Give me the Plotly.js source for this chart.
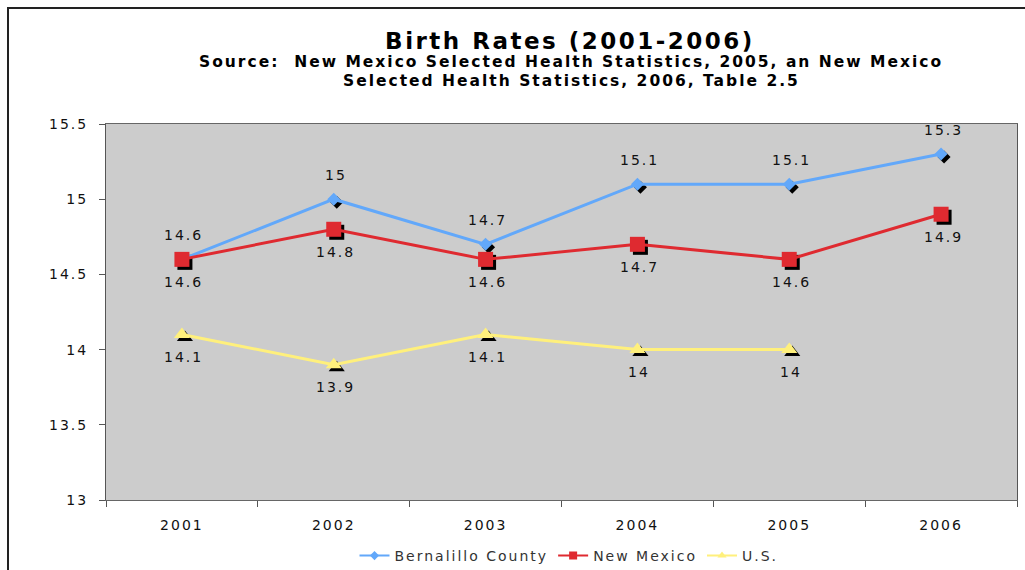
<!DOCTYPE html>
<html>
<head>
<meta charset="utf-8">
<script src="https://cdn.plot.ly/plotly-3.0.1.min.js"></script>
<style>
  html, body { margin: 0; padding: 0; background: #ffffff; }
  #wrap { position: relative; width: 1025px; height: 570px; overflow: hidden; }
  #frame { position: absolute; left: 7px; top: 7px; width: 1040px; height: 600px;
           border-left: 2px solid #222; border-top: 2px solid #222; pointer-events: none; }
  #chart { position: absolute; left: 0; top: 0; width: 1025px; height: 570px; }
  /* wide tracking for all chart lettering */
  .x2tick text, .y2tick text, .annotation-text, .legendtext { letter-spacing: 2px; }
  .gtitle { letter-spacing: 2.5px; }
  .subtitle-line { letter-spacing: 2px; }
</style>
</head>
<body>
<div id="wrap">
  <div id="chart"></div>
  <div id="frame"></div>
</div>
<script>
// Birth rates per 1,000 population, 2001-2006
const years = ['2001', '2002', '2003', '2004', '2005', '2006'];
const bernalillo = [14.6, 15, 14.7, 15.1, 15.1, 15.3];
const newMexico = [14.6, 14.8, 14.6, 14.7, 14.6, 14.9];
const unitedStates = [14.1, 13.9, 14.1, 14, 14, null];

const seriesNames = ['Bernalillo County', 'New Mexico', 'U.S.'];
const seriesColors = ['#62a8fa', '#df2a30', '#fff07c'];
const yTicks = [13, 13.5, 14, 14.5, 15, 15.5];
const subtitleLines = [
  'Source:  New Mexico Selected Health Statistics, 2005, an New Mexico',
  'Selected Health Statistics, 2006, Table 2.5'
];

// plot-area geometry (pixels)
const W = 1025, H = 570;
const M = { l: 106, r: 8, t: 124, b: 70 };
const plotW = W - M.l - M.r;
const plotH = H - M.t - M.b;
const yMin = 13, yMax = 15.5;
const xLo = -0.5, xHi = years.length - 0.5;

// drop shadows: shift the hidden axes so marks land a few pixels right/down
const shadowDx = 3, shadowDy = 3;
const dxu = shadowDx * (xHi - xLo) / plotW;
const dyu = shadowDy * (yMax - yMin) / plotH;

const font = 'DejaVu Sans, Verdana, sans-serif';

const series = [bernalillo, newMexico, unitedStates];
const symbols = ['diamond', 'square', 'triangle-up'];
const sizes = [10, 15, 14];
const legendSizes = [7, 8, 8];

const traces = [];
// shadows first (underneath)
series.forEach((vals, i) => {
  traces.push({
    x: years, y: vals, xaxis: 'x', yaxis: 'y',
    type: 'scatter', mode: 'markers', showlegend: false, hoverinfo: 'skip',
    marker: { symbol: symbols[i], size: sizes[i], color: '#000000' }
  });
});
series.forEach((vals, i) => {
  traces.push({
    x: years, y: vals, xaxis: 'x2', yaxis: 'y2',
    type: 'scatter', mode: 'lines+markers', name: seriesNames[i], showlegend: false,
    connectgaps: false,
    line: { color: seriesColors[i], width: 3 },
    marker: { symbol: symbols[i], size: sizes[i], color: seriesColors[i] }
  });
});
// legend keys with smaller symbols
seriesNames.forEach((name, i) => {
  traces.push({
    x: [null], y: [null], xaxis: 'x2', yaxis: 'y2',
    type: 'scatter', mode: 'lines+markers', name: name, showlegend: true,
    line: { color: seriesColors[i], width: 2 },
    marker: { symbol: symbols[i], size: legendSizes[i], color: seriesColors[i] }
  });
});

// value labels: county above, state and U.S. below
const labelShift = [24, -23, -22];
const annotations = [];
series.forEach((vals, i) => {
  vals.forEach((v, j) => {
    if (v === null) return;
    annotations.push({
      x: j, y: v, xref: 'x2', yref: 'y2',
      text: String(v), showarrow: false, yshift: labelShift[i], xshift: 2,
      font: { family: font, size: 14, color: '#111' }
    });
  });
});

// subtitle lines
const subtitleY = [62, 81];
subtitleLines.forEach((line, k) => {
  annotations.push({
    xref: 'paper', yref: 'paper', x: (571 - M.l) / plotW, y: 1 + (M.t - subtitleY[k]) / plotH,
    xanchor: 'center', yanchor: 'middle', showarrow: false,
    text: '<b>' + line + '</b>',
    font: { family: font, size: 15.5, color: '#000' },
    name: 'subtitle'
  });
});

const layout = {
  width: W, height: H,
  margin: M,
  paper_bgcolor: '#ffffff',
  plot_bgcolor: '#cccccc',
  font: { family: font, color: '#111' },
  title: {
    text: '<b>Birth Rates (2001-2006)</b>',
    font: { family: font, size: 23, color: '#000' },
    x: 570 / W, xanchor: 'center', xref: 'container',
    y: 1 - 41 / H, yanchor: 'middle', yref: 'container'
  },
  xaxis: {
    type: 'category', range: [xLo - dxu, xHi - dxu], visible: false, fixedrange: true
  },
  yaxis: {
    range: [yMin + dyu, yMax + dyu], visible: false, fixedrange: true
  },
  xaxis2: {
    type: 'category', overlaying: 'x', range: [xLo, xHi],
    tickmode: 'array', tickvals: years, ticktext: years,
    tickson: 'boundaries', ticks: 'outside', ticklen: 6, tickcolor: '#555',
    showline: true, linecolor: '#666', linewidth: 1, mirror: true,
    showgrid: false, zeroline: false, ticklabelstandoff: 12,
    tickfont: { family: font, size: 14, color: '#111' }
  },
  yaxis2: {
    overlaying: 'y', range: [yMin, yMax],
    tickmode: 'array', tickvals: yTicks, ticktext: yTicks.map(String),
    ticks: 'outside', ticklen: 6, tickcolor: '#555',
    showline: true, linecolor: '#555', linewidth: 1, mirror: true,
    showgrid: false, zeroline: false, ticklabelstandoff: 8,
    tickfont: { family: font, size: 14, color: '#111' }
  },
  legend: {
    orientation: 'h', xref: 'container', yref: 'container',
    x: 569 / W, xanchor: 'center',
    y: 1 - 556 / H, yanchor: 'middle',
    font: { family: font, size: 14, color: '#333' },
    bgcolor: 'rgba(0,0,0,0)', tracegroupgap: 0
  },
  annotations: annotations,
  showlegend: true
};

Plotly.newPlot('chart', traces, layout, { displayModeBar: false, staticPlot: true }).then(gd => {
  // tag the two subtitle annotations so their tracking can differ from the value labels
  gd.querySelectorAll('.annotation').forEach(g => {
    if (g.getAttribute('data-index') >= annotations.length - subtitleLines.length) {
      const t = g.querySelector('.annotation-text');
      if (t) t.classList.add('subtitle-line');
    }
  });
});
</script>
</body>
</html>
